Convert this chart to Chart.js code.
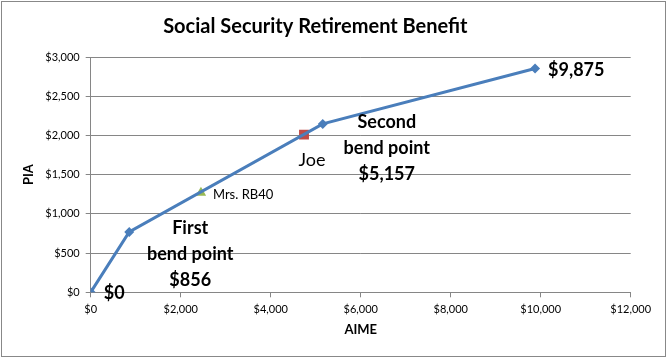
<!DOCTYPE html>
<html>
<head>
<meta charset="utf-8">
<script src="https://cdn.jsdelivr.net/npm/chart.js@4.4.0/dist/chart.umd.min.js"></script>
<style>
html,body{margin:0;padding:0;background:#fff;}
#wrap{width:669px;height:359px;position:relative;}
</style>
</head>
<body>
<div id="wrap"><canvas id="c" width="669" height="359"></canvas></div>
<script>
// ---- data ----
const aimeValues = [0, 856, 5157, 9875];
const piaValues = [0, 770, 2147, 2854];
const joeAime = [4740];
const joePia = [2010];
const rb40Aime = [2450];
const rb40Pia = [1270];
const xTickValues = [0, 2000, 4000, 6000, 8000, 10000, 12000];
const yTickValues = [0, 500, 1000, 1500, 2000, 2500, 3000];
const titleText = 'Social Security Retirement Benefit';
const xTitle = 'AIME';
const yTitle = 'PIA';

const FONT = 'Lato, "Open Sans", sans-serif';
const money = v => '$' + Number(v).toLocaleString('en-US');

// text annotations anchored to data points (offsets in pixels)
const notes = [
  {ds: 0, i: 0, lines: ['$0'], dx: 13, dy: 1, align: 'left', font: 'bold 18px ' + FONT},
  {ds: 0, i: 1, lines: ['First', 'bend point', money(aimeValues[1])], dx: 61, dy: -4, align: 'center', font: 'bold 18px ' + FONT, lh: 26},
  {ds: 0, i: 2, lines: ['Second', 'bend point', money(aimeValues[2])], dx: 64, dy: -2, align: 'center', font: 'bold 18px ' + FONT, lh: 26},
  {ds: 0, i: 3, lines: [money(aimeValues[3])], dx: 13, dy: 2, align: 'left', font: 'bold 18px ' + FONT},
  {ds: 1, i: 0, lines: ['Joe'], dx: 8, dy: 26, align: 'center', font: '18px ' + FONT},
  {ds: 2, i: 0, lines: ['Mrs. RB40'], dx: 12, dy: 2, align: 'left', font: '13px ' + FONT}
];

const toPts = (xs, ys) => xs.map((x, k) => ({x: x, y: ys[k]}));

const notePlugin = {
  id: 'notes',
  afterDatasetsDraw(chart) {
    const ctx = chart.ctx;
    const xs = chart.scales.x, ys = chart.scales.y;
    ctx.save();
    ctx.fillStyle = '#000';
    ctx.textBaseline = 'middle';
    notes.forEach(n => {
      const p = chart.data.datasets[n.ds].data[n.i];
      const px = xs.getPixelForValue(p.x) + n.dx;
      const py = ys.getPixelForValue(p.y) + n.dy;
      ctx.font = n.font;
      ctx.textAlign = n.align;
      n.lines.forEach((t, k) => ctx.fillText(t, px, py + k * (n.lh || 0)));
    });
    ctx.restore();
  }
};

const borderPlugin = {
  id: 'outerBorder',
  beforeDraw(chart) {
    const ctx = chart.ctx;
    ctx.save();
    ctx.fillStyle = '#fff';
    ctx.fillRect(0, 0, chart.width, chart.height);
    ctx.restore();
  },
  afterDraw(chart) {
    const ctx = chart.ctx;
    ctx.save();
    ctx.strokeStyle = '#888';
    ctx.lineWidth = 1;
    ctx.strokeRect(1.5, 1.5, 664, 355);
    ctx.restore();
  }
};

new Chart(document.getElementById('c'), {
  type: 'scatter',
  data: {
    datasets: [
      {
        label: 'PIA',
        data: toPts(aimeValues, piaValues),
        showLine: true,
        borderColor: '#4a7ebb',
        borderWidth: 3,
        backgroundColor: '#4a7ebb',
        pointStyle: 'rectRot',
        pointRadius: 5,
        pointBorderWidth: 0,
        tension: 0
      },
      {
        label: 'Joe',
        data: toPts(joeAime, joePia),
        pointStyle: 'rect',
        pointRadius: 7,
        pointBorderWidth: 0,
        backgroundColor: '#be4b48',
        borderColor: '#be4b48'
      },
      {
        label: 'Mrs. RB40',
        data: toPts(rb40Aime, rb40Pia),
        pointStyle: 'triangle',
        pointRadius: 6,
        pointBorderWidth: 0,
        backgroundColor: '#98b954',
        borderColor: '#98b954'
      }
    ]
  },
  options: {
    responsive: false,
    animation: false,
    layout: {padding: {left: 0, right: 38.3, top: 0, bottom: 0}},
    plugins: {
      legend: {display: false},
      tooltip: {enabled: false},
      title: {
        display: true,
        text: titleText,
        color: '#000',
        font: {family: FONT, size: 20, weight: 'bold'},
        padding: {top: 15, bottom: 18}
      }
    },
    scales: {
      x: {
        type: 'linear',
        min: 0,
        max: 12000,
        afterFit(s) { s.height = 66.7; },
        afterBuildTicks(s) { s.ticks = xTickValues.map(v => ({value: v})); },
        ticks: {
          callback: v => money(v),
          color: '#000',
          font: {family: FONT, size: 11},
          padding: 6,
          maxRotation: 0
        },
        grid: {display: true, drawOnChartArea: false, drawTicks: true, tickLength: 5, color: '#868686'},
        border: {color: '#868686', width: 1},
        title: {
          display: true,
          text: xTitle,
          color: '#000',
          font: {family: FONT, size: 13, weight: 'bold'},
          padding: {top: 0, bottom: 21}
        }
      },
      y: {
        type: 'linear',
        min: 0,
        max: 3000,
        afterFit(s) { s.width = 90.7; },
        afterBuildTicks(s) { s.ticks = yTickValues.map(v => ({value: v})); },
        ticks: {
          callback: v => money(v),
          color: '#000',
          font: {family: FONT, size: 11},
          padding: 6
        },
        grid: {display: true, drawOnChartArea: true, drawTicks: true, tickLength: 5, color: '#868686'},
        border: {color: '#868686', width: 1},
        title: {
          display: true,
          text: yTitle,
          color: '#000',
          font: {family: FONT, size: 13, weight: 'bold'},
          padding: {top: 21, bottom: 0}
        }
      }
    }
  },
  plugins: [notePlugin, borderPlugin]
});
</script>
</body>
</html>
